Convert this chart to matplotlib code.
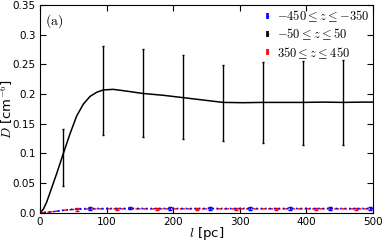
import matplotlib
matplotlib.use("Agg")
import matplotlib.pyplot as plt
from matplotlib.lines import Line2D

plt.rcParams['mathtext.fontset'] = 'cm'

# mid-plane curve (-50 <= z <= 50)
l_line = [0, 5, 10, 15, 20, 25, 35, 45, 55, 65, 75, 85, 95, 110, 130, 155, 185, 215, 245, 275, 305, 335, 365, 395, 425, 455, 485, 500]
d_line = [0.0, 0.006, 0.018, 0.034, 0.05, 0.066, 0.1, 0.133, 0.163, 0.183, 0.196, 0.203, 0.207, 0.208, 0.205, 0.201, 0.198, 0.194, 0.19, 0.186, 0.1855, 0.186, 0.186, 0.186, 0.1865, 0.186, 0.1865, 0.1865]

l_mid = [35, 95, 155, 215, 275, 335, 395, 455]
d_mid = [0.093, 0.2055, 0.2015, 0.195, 0.185, 0.186, 0.1855, 0.1855]
e_mid = [0.048, 0.075, 0.0745, 0.071, 0.064, 0.068, 0.0705, 0.0715]

# lower halo (-450 <= z <= -350)
l_low_line = [0, 10, 20, 30, 40, 50, 60, 75, 100, 135, 165, 195, 225, 255, 285, 315, 345, 375, 405, 435, 465, 495, 500]
d_low_line = [0.0, 0.001, 0.002, 0.0035, 0.005, 0.006, 0.0068, 0.0072, 0.0072, 0.0074, 0.0072, 0.0073, 0.0072, 0.0073, 0.0072, 0.0073, 0.0072, 0.0073, 0.0072, 0.0073, 0.0072, 0.0073, 0.0073]
l_low = [75, 135, 195, 255, 315, 375, 435, 495]
d_low = [0.0072, 0.0074, 0.0073, 0.0073, 0.0073, 0.0073, 0.0073, 0.0073]
e_low = [0.0018, 0.0018, 0.0018, 0.0018, 0.0018, 0.0018, 0.0018, 0.0018]

# upper halo (350 <= z <= 450)
l_up_line = [0, 10, 20, 30, 40, 55, 70, 85, 115, 145, 175, 205, 235, 265, 295, 325, 355, 385, 415, 445, 475, 500]
d_up_line = [0.0, 0.001, 0.002, 0.0035, 0.0048, 0.006, 0.0064, 0.0066, 0.0066, 0.0066, 0.0066, 0.0066, 0.0066, 0.0066, 0.0066, 0.0066, 0.0066, 0.0066, 0.0066, 0.0066, 0.0066, 0.0066]
l_up = [55, 115, 175, 235, 295, 355, 415, 475]
d_up = [0.006, 0.0066, 0.0066, 0.0066, 0.0066, 0.0066, 0.0066, 0.0066]
e_up = [0.0022, 0.0022, 0.0022, 0.0022, 0.0022, 0.0022, 0.0022, 0.0022]

yticks = [0.0, 0.05, 0.1, 0.15, 0.2, 0.25, 0.3, 0.35]
ytick_labels = ['0.0', '0.05', '0.1', '0.15', '0.2', '0.25', '0.3', '0.35']
legend_labels = [r'$-450 \leq z \leq{-}350$', r'$-50 \leq z \leq 50$', r'$350 \leq z \leq 450$']

fig = plt.figure(figsize=(3.9, 2.41), dpi=100)
ax = fig.add_axes([0.1026, 0.117, 0.8538, 0.862])

ax.plot(l_up_line, d_up_line, 'r--', linewidth=1)
ax.errorbar(l_up, d_up, yerr=e_up, fmt='none', ecolor='r', elinewidth=1, capsize=1.5)
ax.plot(l_low_line, d_low_line, 'b:', linewidth=1.2)
ax.errorbar(l_low, d_low, yerr=e_low, fmt='none', ecolor='b', elinewidth=1, capsize=1.5)
ax.plot(l_line, d_line, 'k-', linewidth=1.1)
ax.errorbar(l_mid, d_mid, yerr=e_mid, fmt='none', ecolor='k', elinewidth=1, capsize=1)

# small |-| handles like the original
handles = [Line2D([], [], color=c, marker='|', markersize=4, markeredgewidth=1.2, linewidth=1)
           for c in ['b', 'k', 'r']]
ax.legend(handles, legend_labels, loc='upper right', frameon=False, fontsize=9,
          numpoints=2, handlelength=0.5, handletextpad=0.5, labelspacing=0.2,
          borderaxespad=0.1, borderpad=0.2)

ax.text(0.015, 0.965, r'$\mathrm{(a)}$', transform=ax.transAxes, fontsize=10, va='top')

ax.set_xlim(0, 500)
ax.set_ylim(0, 0.35)
ax.set_yticks(yticks)
ax.set_yticklabels(ytick_labels)
ax.tick_params(direction='in', top=True, right=True, labelsize=7.5, length=4, pad=3)
ax.set_xlabel(r'$l$ [pc]', fontsize=9.5)
ax.set_ylabel(r'$D$ [cm$^{-6}$]', fontsize=9.5)
ax.xaxis.set_label_coords(0.5, -0.06)
ax.yaxis.set_label_coords(-0.075, 0.5)

fig.savefig('out.png', dpi=100)
